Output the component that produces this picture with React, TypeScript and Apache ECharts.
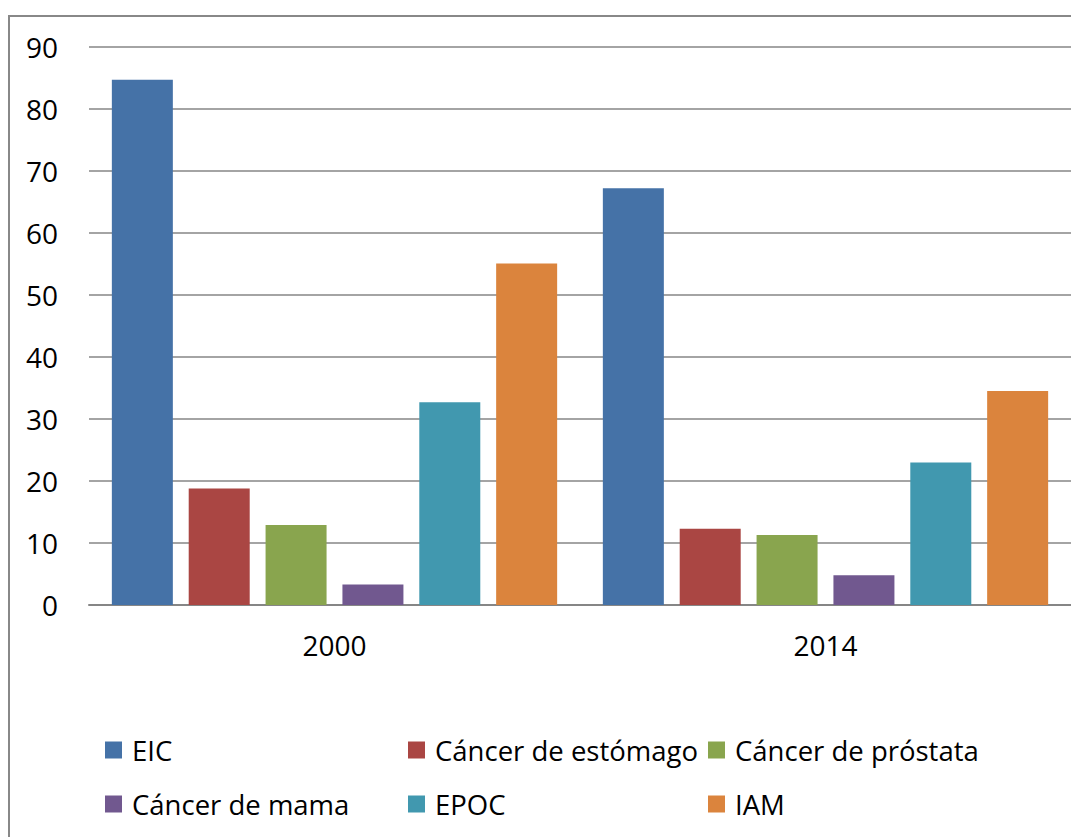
import React, { useEffect, useRef } from "react";
import * as echarts from "echarts";

const categories = ["2000", "2014"];
const seriesNames = [
  "EIC",
  "Cáncer de estómago",
  "Cáncer de próstata",
  "Cáncer de mama",
  "EPOC",
  "IAM",
];
const eic = [84.7, 67.2];
const estomago = [18.8, 12.3];
const prostata = [12.9, 11.3];
const mama = [3.3, 4.8];
const epoc = [32.7, 23.0];
const iam = [55.1, 34.5];
const seriesValues = [eic, estomago, prostata, mama, epoc, iam];
const colors = ["#4572A7", "#AA4643", "#89A54E", "#71588F", "#4198AF", "#DB843D"];
const legendColumns = [
  ["EIC", "Cáncer de mama"],
  ["Cáncer de estómago", "EPOC"],
  ["Cáncer de próstata", "IAM"],
];
const legendLefts = [105, 408, 708];

const FONT = "'Open Sans', 'Noto Sans', sans-serif";

export default function App() {
  const ref = useRef<HTMLDivElement>(null);
  useEffect(() => {
    document.body.style.margin = "0";
    const chart = echarts.init(ref.current!, undefined, { renderer: "svg" });
    chart.setOption({
      animation: false,
      backgroundColor: "#ffffff",
      textStyle: { fontFamily: FONT },
      grid: { left: 89, top: 47, width: 984, height: 558, containLabel: false },
      xAxis: {
        type: "category",
        data: categories,
        axisLine: { show: true, lineStyle: { color: "#868686", width: 2 } },
        axisTick: { show: false },
        axisLabel: { fontSize: 28, color: "#000", margin: 26, fontFamily: FONT },
      },
      yAxis: {
        type: "value",
        min: 0,
        max: 90,
        interval: 10,
        axisLine: { show: false },
        axisTick: { show: false },
        axisLabel: { fontSize: 28, color: "#000", margin: 31, fontFamily: FONT },
        splitLine: { lineStyle: { color: "#868686", width: 1.5 } },
      },
      legend: legendColumns.map((col, i) => ({
        data: col,
        left: legendLefts[i],
        top: 736,
        orient: "vertical",
        icon: "rect",
        itemWidth: 17,
        itemHeight: 17,
        itemGap: 26,
        padding: 0,
        selectedMode: false,
        textStyle: {
          fontSize: 27.5,
          color: "#000",
          fontFamily: FONT,
          padding: [0, 0, 0, 5],
        },
      })),
      graphic: [
        {
          type: "rect",
          shape: { x: 9, y: 16, width: 1200, height: 1000 },
          style: { fill: "none", stroke: "#888888", lineWidth: 2 },
          silent: true,
        },
      ],
      series: seriesNames.map((name, i) => ({
        name,
        type: "bar",
        data: seriesValues[i],
        barWidth: 61,
        barGap: "26%",
        itemStyle: { color: colors[i] },
      })),
    });
    return () => chart.dispose();
  }, []);
  return <div ref={ref} style={{ width: 1071, height: 837 }} />;
}
